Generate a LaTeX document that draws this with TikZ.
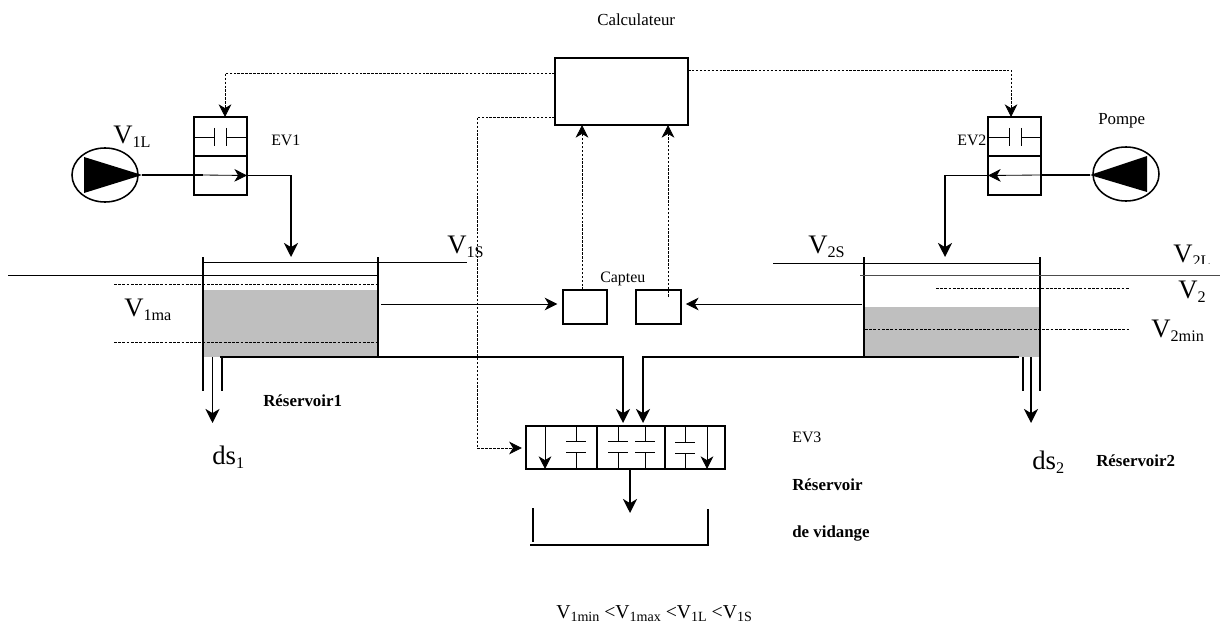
\documentclass[tikz,border=0pt]{standalone}
\usepackage{fontspec}
\setmainfont{Liberation Serif}
\usetikzlibrary{calc}
\usetikzlibrary{arrows.meta}
\usetikzlibrary{shapes.geometric}

\newcommand{\vsub}[1]{\raisebox{-0.4ex}{\fontsize{11.5}{12}\selectfont #1}}
\newcommand{\vsubsmall}[1]{\raisebox{-0.4ex}{\fontsize{10}{11}\selectfont #1}}

\tikzset{
  thinline/.style={line width=0.6pt},
  pipe/.style={line width=1.4pt},
  pipehead/.style={-{Stealth[length=10pt,width=10pt,inset=3pt]}},
  thinhead/.style={-{Stealth[length=9pt,width=9pt,inset=2.7pt]}},
  signal/.style={line width=0.55pt, dash pattern=on 1.8pt off 1pt},
  level/.style={line width=0.55pt, dash pattern=on 2pt off 1pt},
  box/.style={draw, line width=1.1pt, rectangle, inner sep=0pt, outer sep=0pt},
  pumpbody/.style={draw, line width=1.1pt, ellipse, inner sep=0pt, outer sep=0pt, minimum width=1.65cm, minimum height=1.35cm},
  txt/.style={anchor=base west, inner sep=0pt, font=\fontsize{12}{14}\selectfont},
  smalltxt/.style={anchor=base west, inner sep=0pt, font=\fontsize{11.3}{13}\selectfont},
  boldtxt/.style={anchor=base west, inner sep=0pt, font=\fontsize{12}{14}\selectfont\bfseries},
  vlabel/.style={anchor=base west, inner sep=0pt, font=\fontsize{19}{21}\selectfont},
}

\begin{document}
\begin{tikzpicture}[x=0.025cm, y=-0.025cm]
  \useasboundingbox (0,0) rectangle (1220,623);

  % liquid
  \fill[gray!50] (204,290) rectangle (378,357);
  \fill[gray!50] (865,307) rectangle (1041,357);

  % computer, valves, sensors
  \node[box, minimum width=3.325cm, minimum height=1.675cm] (calc) at (621.5,91.5) {};
  \node[box, minimum width=1.325cm, minimum height=0.975cm] (ev1top) at (220.5,136.5) {};
  \node[box, minimum width=1.325cm, minimum height=0.975cm] (ev1low) at (220.5,175.5) {};
  \node[box, minimum width=1.325cm, minimum height=0.975cm] (ev2top) at (1014.5,136.5) {};
  \node[box, minimum width=1.325cm, minimum height=0.975cm] (ev2low) at (1014.5,175.5) {};
  \node[box, minimum width=1.1cm, minimum height=0.85cm] (capt1) at (585,307) {};
  \node[box, minimum width=1.125cm, minimum height=0.85cm] (capt2) at (658.5,307) {};
  \node[box, minimum width=1.775cm, minimum height=1.075cm] (ev3a) at (561.5,447.5) {};
  \node[box, minimum width=1.7cm, minimum height=1.075cm] (ev3b) at (631,447.5) {};
  \node[box, minimum width=1.5cm, minimum height=1.075cm] (ev3c) at (695,447.5) {};

  % pumps
  \node[pumpbody] (pump1) at (105,175) {};
  \node[pumpbody] (pump2) at (1126,174) {};
  \fill (84,157) -- (84,193) -- (142,175) -- cycle;
  \fill (1147,156) -- (1147,192) -- (1090,175) -- cycle;

  % free ends
  \coordinate (pump1tip) at (142,175);
  \coordinate (pump2tip) at (1090,175);
  \coordinate (ev1mid) at (203,175);
  \coordinate (ev2mid) at (1040,175);
  \coordinate (tank1in) at (291,257);
  \coordinate (tank2in) at (945,257);
  \coordinate (calcl1) at (555,73);
  \coordinate (calcl2) at (555,117);
  \coordinate (calcr) at (688,70);
  \coordinate (ev1in) at (225,117);
  \coordinate (ev2in) at (1011,117);
  \coordinate (ev3in) at (526,448);
  \coordinate (tank1wall) at (381,304);
  \coordinate (tank2wall) at (862,304);
  \coordinate (capt1up) at (582,290);
  \coordinate (capt2up) at (668,297);
  \coordinate (calcin1) at (582,125);
  \coordinate (calcin2) at (668,125);
  \coordinate (out1) at (220,357);
  \coordinate (out2) at (1019,357);
  \coordinate (ev3in1) at (623,423);
  \coordinate (ev3in2) at (643,423);
  \coordinate (ev3out) at (630,469);
  \coordinate (vidange) at (630,513);

  % pipes
  \draw[pipe] (pump1tip) -- (ev1mid);
  \draw[thinline, thinhead] (ev1mid) -- (ev1low.east);
  \draw[pipe, pipehead] (ev1low.east) -| (tank1in);
  \draw[pipe] (pump2tip) -- (ev2mid);
  \draw[thinline, thinhead] (ev2mid) -- (ev2low.west);
  \draw[pipe, pipehead] (ev2low.west) -| (tank2in);
  \draw[pipe, pipehead] (out1) -| (ev3in1);
  \draw[pipe, pipehead] (out2) -| (ev3in2);
  \draw[pipe, pipehead] (ev3out) -- (vidange);

  % signals
  \draw[signal, thinhead] (calcl1) -| (ev1in);
  \draw[signal, thinhead] (calcr) -| (ev2in);
  \draw[signal, thinhead, shorten >=3pt] (calcl2) -| (477,448) -- (ev3in);
  \draw[signal, thinhead] (capt1up) -- (calcin1);
  \draw[signal, thinhead] (capt2up) -- (calcin2);
  \draw[thinline, thinhead, shorten >=4pt] (tank1wall) -- (capt1.west |- tank1wall);
  \draw[thinline, thinhead, shorten >=3.5pt] (tank2wall) -- (capt2.east |- tank2wall);

  % tank 1
  \draw[pipe] (203,257) -- (203,391);
  \draw[pipe] (378,257) -- (378,357);
  \draw[thinline] (203,262) -- (467,262);
  \draw[thinline] (8,275) -- (378,275);
  \draw[level] (114,284) -- (378,284);
  \draw[level] (114,342) -- (378,342);
  \draw[thinline, line width=1pt] (222,357) -- (222,391);
  \draw[pipe, pipehead] (212.5,357) -- (212.5,423);

  % tank 2
  \draw[pipe] (864,257) -- (864,357);
  \draw[pipe] (1040,257) -- (1040,391);
  \draw[thinline] (773,263) -- (1039,263);
  \draw[thinline, black!70] (860,275) -- (1220,275);
  \draw[level] (936,288) -- (1129,288);
  \draw[level] (865,329) -- (1129,329);
  \draw[thinline, line width=1pt] (1023,357) -- (1023,391);
  \draw[pipe, pipehead] (1031,357) -- (1031,423);

  % tank under EV3
  \draw[pipe] (533,508) -- (533,542);
  \draw[pipe] (530,545) -- (708,545) -- (708,509);

  % valve symbols
  \foreach \xa/\xb/\xc/\xd/\ya in {195/214/226/246/137, 989/1009/1021/1040/137} {
    \draw[thinline] (\xa,\ya) -- (\xb,\ya) (\xb,\ya-9) -- (\xb,\ya+9);
    \draw[thinline] (\xc,\ya-9) -- (\xc,\ya+9) (\xc,\ya) -- (\xd,\ya);
  }
  \foreach \xa/\ya in {576/441, 618/441, 645/441, 685/442} {
    \draw[thinline] (\xa,426) -- (\xa,\ya) (\xa-10,\ya) -- (\xa+10,\ya);
    \draw[thinline] (\xa-10,\ya+11) -- (\xa+10,\ya+11) (\xa,\ya+11) -- (\xa,469);
  }
  \draw[thinline, thinhead] (545,425) -- (545,469);
  \draw[thinline, thinhead] (707,425) -- (707,469);

  % labels
  \node[txt] (calclabel) at (597,26) {Calculateur};
  \node[txt] (pompelabel) at (1098,124) {Pompe};
  \node[smalltxt] (ev1label) at (271,145) {EV1};
  \node[smalltxt] (ev2label) at (957,146) {EV2};
  \node[smalltxt] (ev3label) at (792,442) {EV3};
  \node[smalltxt] (captlabel) at (600,282) {Capteu};
  \node[boldtxt] (res1label) at (263,406) {Réservoir1};
  \node[boldtxt] (res2label) at (1096,466) {Réservoir2};
  \node[boldtxt] (vid1label) at (792,490) {Réservoir};
  \node[boldtxt] (vid2label) at (792,537) {de vidange};
  \node[vlabel] (v1l) at (113,143) {V\vsub{1L}};
  \node[vlabel] (v1ma) at (124,316) {V\vsub{1ma}};
  \node[vlabel] (v1s) at (447,253) {V\vsub{1S}};
  \node[vlabel] (v2s) at (808,253) {V\vsub{2S}};
  \begin{scope}
    \clip (1150,230) rectangle (1220,263);
    \node[vlabel] (v2l) at (1173,262) {V\vsub{2L}};
  \end{scope}
  \node[vlabel] (v2) at (1178,298) {V\vsub{2}};
  \node[vlabel] (v2min) at (1151,337) {V\vsub{2min}};
  \node[vlabel] (ds1) at (212,464) {ds\vsub{1}};
  \node[vlabel] (ds2) at (1032,469) {ds\vsub{2}};
  \node[anchor=base west, inner sep=0pt, font=\fontsize{14}{16}\selectfont] (order) at (556,618)
    {V\vsubsmall{1min} <V\vsubsmall{1max} <V\vsubsmall{1L} <V\vsubsmall{1S}};
\end{tikzpicture}
\end{document}
